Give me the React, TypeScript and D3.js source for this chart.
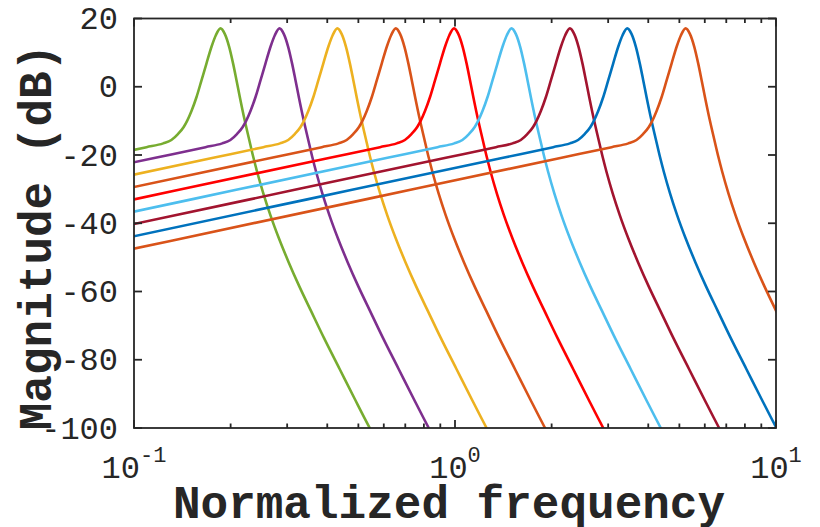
import React from 'react';
import * as d3 from 'd3';

// Peak frequency of each resonance
const peakFreqs = [0.186, 0.284, 0.43, 0.654, 0.993, 1.5, 2.28, 3.44, 5.23];
const seriesColors = ['#77AC30', '#7E2F8E', '#EDB120', '#D95319', '#FF0000', '#4DBEEE', '#A2142F', '#0072BD', '#D95319'];

// Common response shape: frequency / peak frequency, and magnitude in dB
const shapeRatio = [
  0.019, 0.1007, 0.4107, 0.588, 0.663, 0.703, 0.738, 0.768, 0.787, 0.812, 0.842, 0.872, 0.904, 0.938, 0.967,
  1.0,
  1.031, 1.064, 1.095, 1.121, 1.148, 1.188, 1.227, 1.265, 1.3, 1.36, 1.43, 1.52, 1.63, 1.76, 1.912, 2.1, 2.35, 2.62,
  2.917, 2.94,
];
const shapeDb = [
  -47.5, -33.0, -20.8, -17.7, -16.6, -15.6, -13.8, -11.8, -10.0, -7.1, -3.0, 1.8, 6.8, 11.8, 15.1,
  17.1,
  15.5, 11.7, 6.7, 2.0, -2.9, -9.6, -15.3, -20.6, -24.9, -31.3, -37.6, -44.4, -51.4, -58.5, -65.6, -73.6, -82.7,
  -91.5, -100.0, -100.6,
];

const yTicks = [20, 0, -20, -40, -60, -80, -100];
const xMajorTicks = [0.1, 1, 10];
const xMajorExp = ['-1', '0', '1'];
const xMinorTicks = [0.2, 0.3, 0.4, 0.5, 0.6, 0.7, 0.8, 0.9, 2, 3, 4, 5, 6, 7, 8, 9];

const W = 820;
const H = 527;
const L = 134;
const R = 776;
const T = 18.5;
const B = 428;
const AX = '#262626';
const FONT = "'Liberation Mono', 'DejaVu Sans Mono', Courier, monospace";

export default function App() {
  const x = d3.scaleLog().domain([0.1, 10]).range([L, R]);
  const y = d3.scaleLinear().domain([-100, 20]).range([B, T]);
  const line = d3
    .line<[number, number]>()
    .x((d) => x(d[0]))
    .y((d) => y(d[1]))
    .curve(d3.curveMonotoneX);

  const series = peakFreqs.map((p) => shapeRatio.map((r, i) => [r * p, shapeDb[i]] as [number, number]));

  return (
    <svg
      width={W}
      height={H}
      style={{ position: 'absolute', left: 0, top: 0, display: 'block', background: '#fff' }}
    >
      <defs>
        <clipPath id="plotclip">
          <rect x={L} y={T} width={R - L} height={B - T} />
        </clipPath>
      </defs>
      <rect x={0} y={0} width={W} height={H} fill="#fff" />
      <g clipPath="url(#plotclip)">
        {series.map((s, i) => (
          <path key={i} d={line(s) || ''} fill="none" stroke={seriesColors[i]} strokeWidth={2.6} strokeLinejoin="round" />
        ))}
      </g>
      {/* box */}
      <rect x={L} y={T} width={R - L} height={B - T} fill="none" stroke={AX} strokeWidth={1.8} />
      {/* y ticks */}
      {yTicks.map((t) => (
        <g key={'y' + t}>
          <line x1={L} x2={L + 8} y1={y(t)} y2={y(t)} stroke={AX} strokeWidth={1.8} />
          <line x1={R} x2={R - 8} y1={y(t)} y2={y(t)} stroke={AX} strokeWidth={1.8} />
          <text x={118} y={y(t) + 10.5} textAnchor="end" fontFamily={FONT} fontSize={32} fill={AX}>
            {String(t)}
          </text>
        </g>
      ))}
      {/* x ticks */}
      {xMinorTicks.map((t) => (
        <g key={'xm' + t}>
          <line x1={x(t)} x2={x(t)} y1={B} y2={B - 4.5} stroke={AX} strokeWidth={1.8} />
          <line x1={x(t)} x2={x(t)} y1={T} y2={T + 4.5} stroke={AX} strokeWidth={1.8} />
        </g>
      ))}
      {xMajorTicks.map((t, i) => (
        <g key={'xM' + t}>
          <line x1={x(t)} x2={x(t)} y1={B} y2={B - 8} stroke={AX} strokeWidth={1.8} />
          <line x1={x(t)} x2={x(t)} y1={T} y2={T + 8} stroke={AX} strokeWidth={1.8} />
          <text x={x(t)} y={478} textAnchor="middle" fontFamily={FONT} fontSize={32} fill={AX}>
            <tspan>10</tspan>
            <tspan fontSize={22} dy={-16}>
              {xMajorExp[i]}
            </tspan>
          </text>
        </g>
      ))}
      {/* axis labels */}
      <text x={449} y={518} textAnchor="middle" fontFamily={FONT} fontWeight="bold" fontSize={46} fill={AX}>
        Normalized frequency
      </text>
      <text
        transform="translate(51,237) rotate(-90)"
        textAnchor="middle"
        fontFamily={FONT}
        fontWeight="bold"
        fontSize={46}
        fill={AX}
      >
        Magnitude (dB)
      </text>
    </svg>
  );
}
